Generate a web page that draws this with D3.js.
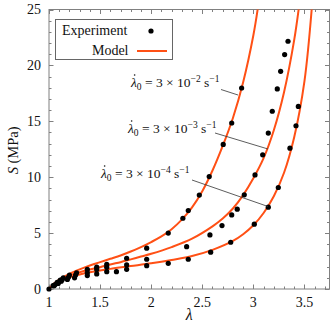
<!DOCTYPE html>
<html>
<head>
<meta charset="utf-8">
<script src="https://d3js.org/d3.v7.min.js"></script>
<style>
  body { margin: 0; padding: 0; background: #fff; }
  svg text { font-family: "Liberation Serif", "DejaVu Serif", serif; fill: #111; }
</style>
</head>
<body>
<div id="chart"></div>
<script>
var W = 333, H = 324;

// tick labels
var xTicks = [1, 1.5, 2, 2.5, 3, 3.5];
var yTicks = [0, 5, 10, 15, 20, 25];

// strain-rate labels (exponent of 3 x 10^n s^-1)
var rateExp = ["2", "3", "4"];

// experiment, one array per rate: [stretch, stress MPa]
var exp2 = [[1, 0], [1.04, 0.3], [1.08, 0.6], [1.11, 0.8], [1.14, 1.0], [1.2, 1.25], [1.27, 1.45],
  [1.375, 1.75], [1.467, 1.95], [1.565, 2.2], [1.76, 2.75], [1.956, 3.65], [2.167, 5.0],
  [2.31, 6.33], [2.363, 7.02], [2.471, 8.4], [2.568, 10.06], [2.705, 12.93], [2.788, 14.85], [2.885, 17.98]];
var exp3 = [[1.06, 0.4], [1.1, 0.65], [1.13, 0.85], [1.19, 1.05], [1.26, 1.25], [1.375, 1.45],
  [1.467, 1.75], [1.565, 1.95], [1.76, 2.15], [1.956, 2.66], [2.347, 3.79], [2.575, 4.84],
  [2.693, 5.67], [2.788, 6.63], [2.842, 7.14], [2.911, 8.42], [3.016, 10.2], [3.091, 12.0],
  [3.146, 13.95], [3.185, 15.9], [3.234, 17.9], [3.267, 19.47], [3.306, 20.97], [3.339, 22.16]];
var exp4 = [[1.05, 0.3], [1.09, 0.5], [1.12, 0.7], [1.18, 0.85], [1.25, 1.0], [1.375, 1.2],
  [1.467, 1.35], [1.565, 1.55], [1.66, 1.55], [1.76, 1.76], [1.956, 2.09], [2.167, 2.3],
  [2.363, 2.66], [2.582, 3.29], [2.778, 4.18], [3.009, 5.8], [3.146, 7.32], [3.244, 9.08],
  [3.358, 12.6], [3.417, 14.6], [3.44, 16.33]];

// model curves
var model2 = [[1, 0], [1.05, 0.5], [1.1, 0.85], [1.2, 1.35], [1.3, 1.75], [1.4, 2.1], [1.5, 2.4],
  [1.6, 2.7], [1.7, 3.0], [1.8, 3.35], [1.9, 3.75], [2.0, 4.2], [2.1, 4.7], [2.2, 5.35], [2.3, 6.2],
  [2.4, 7.3], [2.5, 8.75], [2.6, 10.6], [2.7, 12.8], [2.8, 15.3], [2.9, 18.5], [3.0, 22.7], [3.05, 25.5]];
var model3 = [[1, 0], [1.05, 0.45], [1.1, 0.75], [1.2, 1.2], [1.3, 1.5], [1.4, 1.75], [1.5, 1.95],
  [1.6, 2.2], [1.7, 2.4], [1.8, 2.65], [1.9, 2.9], [2.0, 3.15], [2.2, 3.75], [2.4, 4.5], [2.6, 5.6],
  [2.7, 6.3], [2.8, 7.2], [2.9, 8.4], [3.0, 9.9], [3.1, 11.7], [3.2, 14.2], [3.3, 17.6], [3.4, 22.3], [3.45, 25.5]];
var model4 = [[1, 0], [1.05, 0.4], [1.1, 0.7], [1.2, 1.05], [1.3, 1.3], [1.4, 1.5], [1.5, 1.65],
  [1.6, 1.8], [1.8, 2.05], [2.0, 2.3], [2.2, 2.6], [2.4, 2.95], [2.6, 3.5], [2.8, 4.3], [2.9, 4.9],
  [3.0, 5.7], [3.1, 6.8], [3.2, 8.3], [3.3, 10.4], [3.4, 13.6], [3.5, 18.6], [3.575, 25.5]];

var svg = d3.select("#chart").append("svg")
  .attr("width", W)
  .attr("height", H);

var x = d3.scaleLinear().domain([1, 3.745]).range([49, 329.5]);
var y = d3.scaleLinear().domain([0, 25]).range([289, 9.5]);

var frameCol = "#808080", curveCol = "#ff5015";

svg.append("clipPath").attr("id", "clip")
  .append("rect")
  .attr("x", x.range()[0]).attr("y", y.range()[1])
  .attr("width", x.range()[1] - x.range()[0])
  .attr("height", y.range()[0] - y.range()[1]);

// ticks (inward, on all four sides)
var xMinor = d3.range(10, 38).map(function(d) { return d / 10; });
var yMinor = d3.range(0, 26);

var tickG = svg.append("g").attr("stroke", frameCol).attr("stroke-width", 1);
xMinor.forEach(function(v) {
  var major = Math.abs(v * 2 - Math.round(v * 2)) < 1e-6;
  var len = major ? 4.5 : 2.5;
  var px = Math.round(x(v)) + 0.5;
  tickG.append("line").attr("x1", px).attr("x2", px).attr("y1", y(0)).attr("y2", y(0) - len);
  tickG.append("line").attr("x1", px).attr("x2", px).attr("y1", y(25)).attr("y2", y(25) + len);
});
yMinor.forEach(function(v) {
  var len = v % 5 === 0 ? 4.5 : 2.5;
  var py = Math.round(y(v)) + 0.5;
  tickG.append("line").attr("x1", x(1)).attr("x2", x(1) + len).attr("y1", py).attr("y2", py);
  tickG.append("line").attr("x1", x.range()[1]).attr("x2", x.range()[1] - len).attr("y1", py).attr("y2", py);
});

svg.append("rect")
  .attr("x", x.range()[0]).attr("y", y.range()[1])
  .attr("width", x.range()[1] - x.range()[0])
  .attr("height", y.range()[0] - y.range()[1])
  .attr("fill", "none").attr("stroke", frameCol).attr("stroke-width", 1);

svg.selectAll(".xl").data(xTicks).enter().append("text")
  .attr("x", function(d) { return x(d); })
  .attr("y", 307)
  .attr("text-anchor", "middle")
  .attr("font-size", 14)
  .text(function(d) { return d; });

svg.selectAll(".yl").data(yTicks).enter().append("text")
  .attr("x", 41)
  .attr("y", function(d) { return y(d) + 4.5; })
  .attr("text-anchor", "end")
  .attr("font-size", 14)
  .text(function(d) { return d; });

// axis titles
svg.append("text")
  .attr("x", (x.range()[0] + x.range()[1]) / 2)
  .attr("y", 320)
  .attr("text-anchor", "middle")
  .attr("font-size", 16)
  .attr("font-style", "italic")
  .text("λ");

var yt = svg.append("text")
  .attr("transform", "translate(18," + (y(12.4)) + ") rotate(-90)")
  .attr("text-anchor", "middle")
  .attr("font-size", 14.5);
yt.append("tspan").attr("font-style", "italic").text("S");
yt.append("tspan").text(" (MPa)");

// model curves
var line = d3.line()
  .x(function(d) { return x(d[0]); })
  .y(function(d) { return y(d[1]); })
  .curve(d3.curveCatmullRom.alpha(0.5));

var plot = svg.append("g").attr("clip-path", "url(#clip)");
[model2, model3, model4].forEach(function(m) {
  plot.append("path")
    .datum(m)
    .attr("d", line)
    .attr("fill", "none")
    .attr("stroke", curveCol)
    .attr("stroke-width", 2);
});

// experiment points
[exp2, exp3, exp4].forEach(function(s) {
  svg.append("g").selectAll("circle").data(s).enter().append("circle")
    .attr("cx", function(d) { return x(d[0]); })
    .attr("cy", function(d) { return y(d[1]); })
    .attr("r", 2.6)
    .attr("fill", "#000");
});

// annotations
var notes = [
  { tx: 131, ty: 87, pts: [[221, 89.5], [238, 95]] },
  { tx: 128, ty: 133, pts: [[215, 133], [268, 149]] },
  { tx: 101, ty: 178, pts: [[192, 180], [268, 206.5]] }
];
notes.forEach(function(n, i) {
  var t = svg.append("text").attr("x", n.tx).attr("y", n.ty).attr("font-size", 13.5);
  t.append("tspan").attr("font-style", "italic").text("λ");
  t.append("tspan").attr("font-size", 9.5).attr("dy", 2.5).text("0");
  t.append("tspan").attr("dy", -2.5).text(" = 3 × 10");
  t.append("tspan").attr("font-size", 9.5).attr("dy", -5.5).text("\u2212" + rateExp[i]);
  t.append("tspan").attr("dy", 5.5).text(" s");
  t.append("tspan").attr("font-size", 9.5).attr("dy", -5.5).text("\u22121");
  // dot over lambda
  var ext = t.node().getExtentOfChar(0);
  svg.append("circle")
    .attr("cx", ext.x + ext.width * 0.62)
    .attr("cy", n.ty - 12)
    .attr("r", 0.8)
    .attr("fill", "#111");
  svg.append("line")
    .attr("x1", n.pts[0][0]).attr("y1", n.pts[0][1])
    .attr("x2", n.pts[1][0]).attr("y2", n.pts[1][1])
    .attr("stroke", "#333").attr("stroke-width", 0.8);
});

// legend
var lg = svg.append("g");
lg.append("rect")
  .attr("x", 55.5).attr("y", 19.5).attr("width", 117).attr("height", 40)
  .attr("fill", "#fff").attr("stroke", "#666").attr("stroke-width", 1);
lg.append("text").attr("x", 62).attr("y", 34.5).attr("font-size", 14).text("Experiment");
lg.append("circle").attr("cx", 151).attr("cy", 31).attr("r", 2.6).attr("fill", "#000");
lg.append("text").attr("x", 128.5).attr("y", 55).attr("text-anchor", "end").attr("font-size", 14).text("Model");
lg.append("line").attr("x1", 137).attr("x2", 167).attr("y1", 51).attr("y2", 51)
  .attr("stroke", curveCol).attr("stroke-width", 2);
</script>
</body>
</html>
